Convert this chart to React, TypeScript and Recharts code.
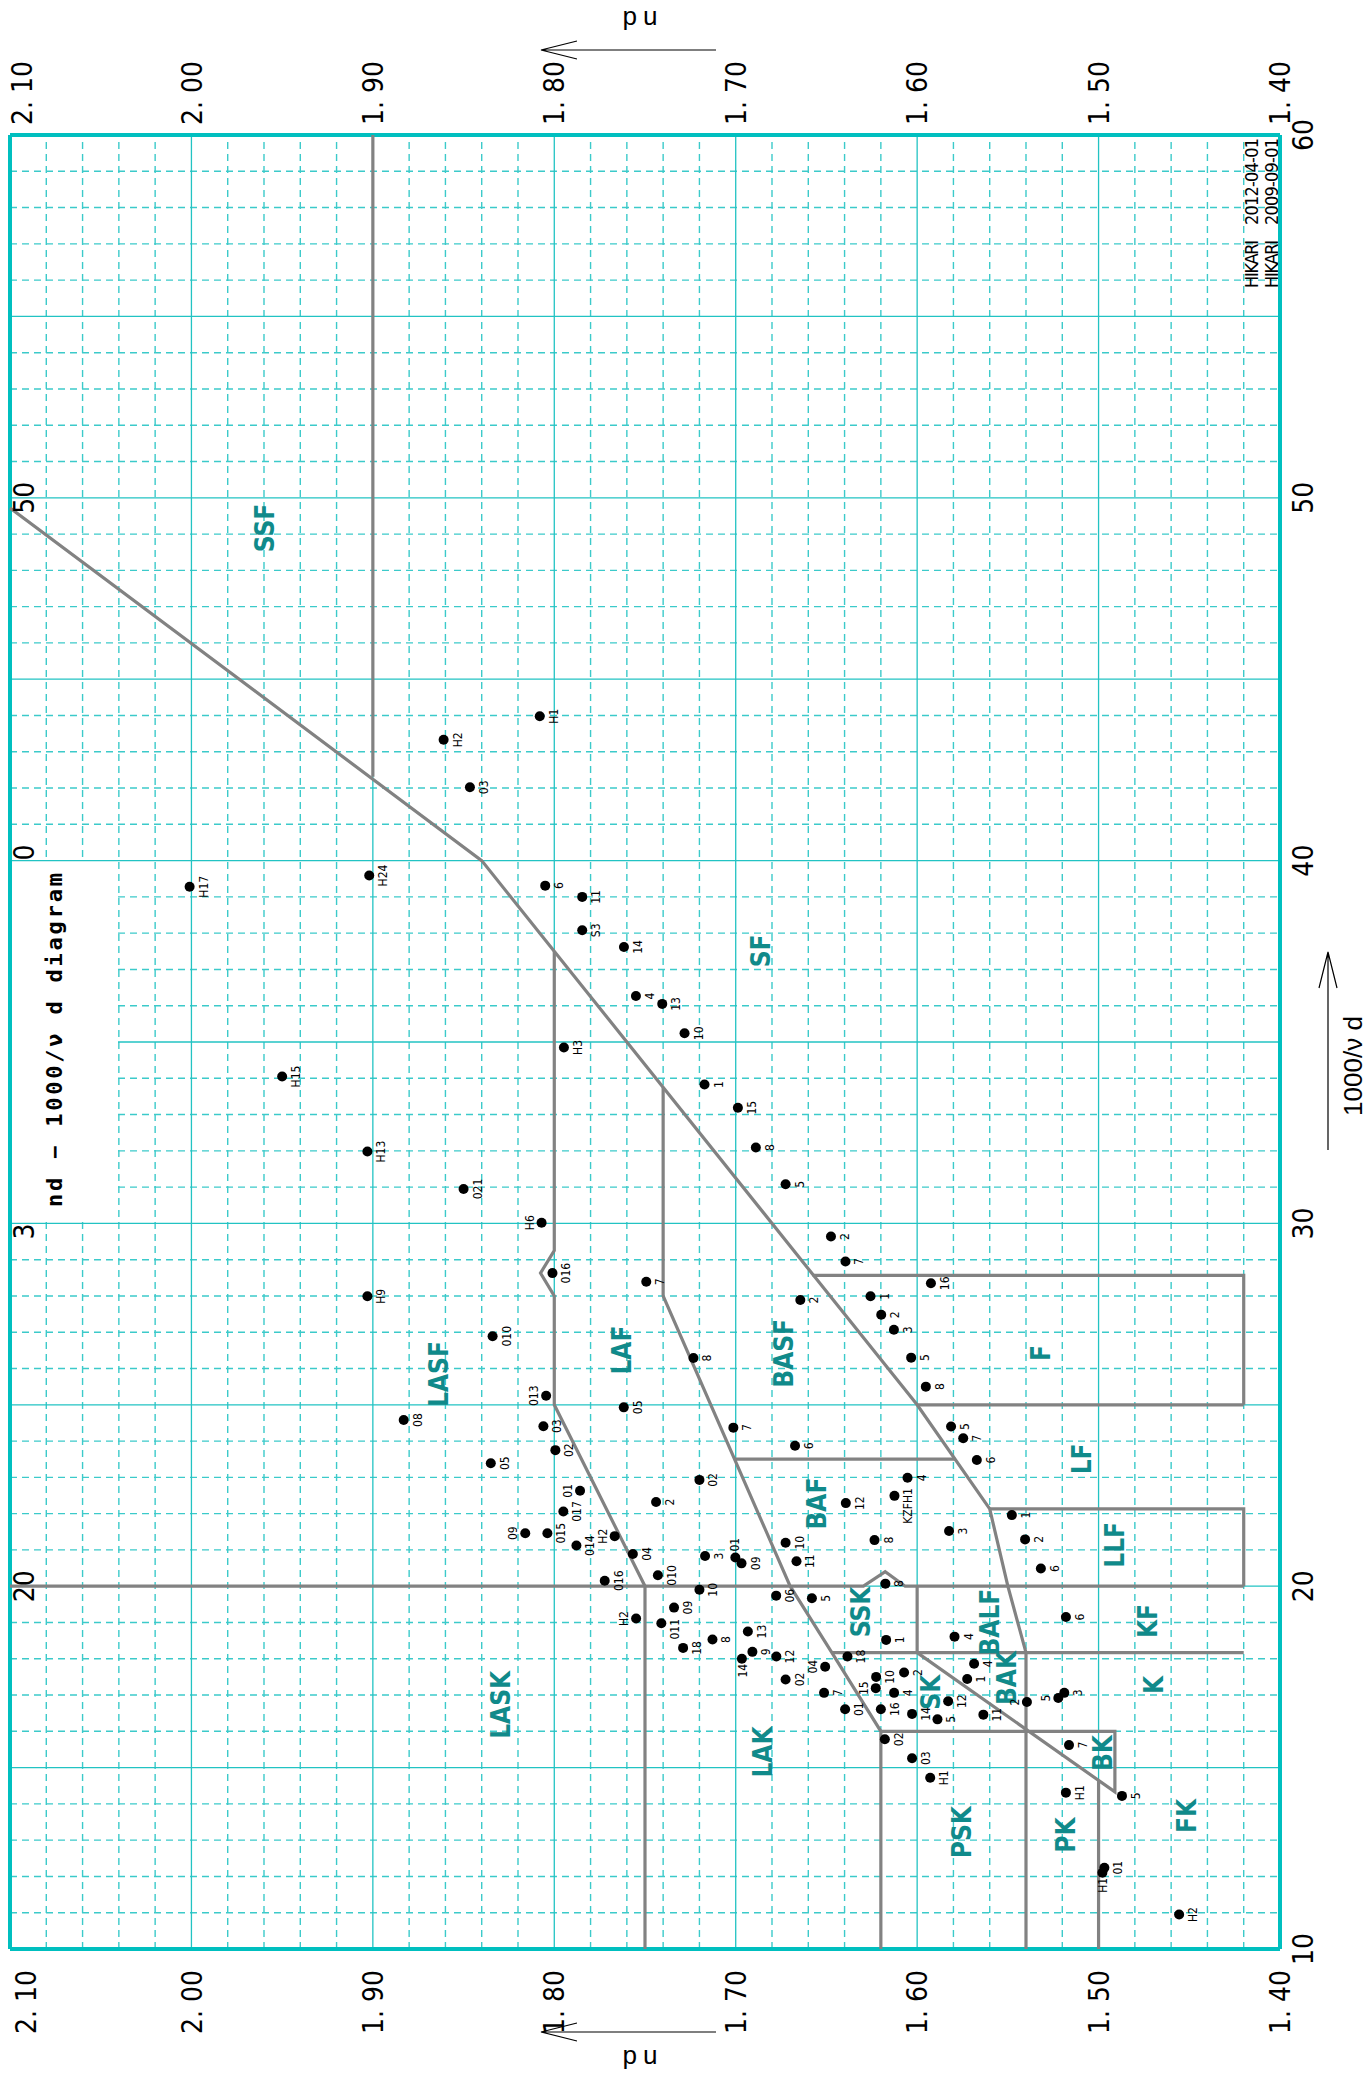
import React from 'react'
import {
  ScatterChart, Scatter, XAxis, YAxis, CartesianGrid,
} from 'recharts'

// glass points: [code, nd, 1000/νd]
const lasfGlass: [string, number, number][] = [
  ['H17', 2.001, 39.28], ['H24', 1.902, 39.59], ['H15', 1.95, 34.05], ['H13', 1.903, 31.98],
  ['021', 1.85, 30.95], ['H6', 1.807, 30.02], ['H9', 1.903, 27.99], ['010', 1.834, 26.89],
  ['016', 1.801, 28.63], ['013', 1.8045, 25.25], ['08', 1.883, 24.58], ['05', 1.835, 23.39],
  ['03', 1.806, 24.41], ['02', 1.7994, 23.75], ['01', 1.7858, 22.63], ['017', 1.795, 22.06],
  ['09', 1.816, 21.46], ['015', 1.8038, 21.46], ['014', 1.7878, 21.12],
]
const sfGlass: [string, number, number][] = [
  ['H1', 1.808, 43.98], ['H2', 1.861, 43.33], ['03', 1.8465, 42.02], ['6', 1.805, 39.31],
  ['11', 1.7846, 39.0], ['S3', 1.7846, 38.08], ['14', 1.7616, 37.62], ['4', 1.755, 36.27],
  ['13', 1.7405, 36.05], ['10', 1.7282, 35.24], ['1', 1.7172, 33.83], ['15', 1.6988, 33.19],
  ['8', 1.6889, 32.09], ['5', 1.6725, 31.08], ['2', 1.6475, 29.64], ['7', 1.6395, 28.95],
]
const lafGlass: [string, number, number][] = [
  ['H3', 1.7947, 34.85], ['7', 1.7493, 28.39], ['8', 1.7233, 26.29], ['05', 1.7617, 24.93],
  ['02', 1.72, 22.93], ['2', 1.7439, 22.32], ['H2', 1.7667, 21.38], ['04', 1.7567, 20.89],
  ['3', 1.7169, 20.83], ['01', 1.7002, 20.79], ['09', 1.6968, 20.63], ['010', 1.7429, 20.3],
  ['016', 1.7722, 20.15],
]
const basfGlass: [string, number, number][] = [['2', 1.6644, 27.89], ['7', 1.7013, 24.37], ['6', 1.6673, 23.87]]
const fGlass: [string, number, number][] = [
  ['16', 1.5924, 28.35], ['1', 1.6257, 27.99], ['2', 1.6198, 27.48], ['3', 1.6128, 27.07],
  ['5', 1.6033, 26.3], ['8', 1.5952, 25.5],
]
const lfGlass: [string, number, number][] = [['5', 1.5813, 24.4], ['7', 1.5746, 24.08], ['6', 1.5671, 23.48]]
const bafGlass: [string, number, number][] = [
  ['4', 1.6053, 22.99], ['KZFH1', 1.6125, 22.49], ['12', 1.6393, 22.29], ['3', 1.5824, 21.52],
  ['8', 1.6235, 21.27], ['10', 1.6725, 21.2], ['11', 1.6665, 20.69],
]
const llfGlass: [string, number, number][] = [['1', 1.5478, 21.96], ['2', 1.5405, 21.29], ['6', 1.5318, 20.49]]
const kfGlass: [string, number, number][] = [['6', 1.518, 19.15]]
const lakGlass: [string, number, number][] = [
  ['10', 1.72, 19.9], ['H2', 1.7549, 19.11], ['09', 1.734, 19.41], ['011', 1.741, 18.98],
  ['18', 1.729, 18.3], ['8', 1.7128, 18.53], ['13', 1.6933, 18.75], ['9', 1.6908, 18.19],
  ['14', 1.6966, 18.0], ['12', 1.6776, 18.06], ['04', 1.6507, 17.78], ['02', 1.6725, 17.43],
  ['7', 1.6513, 17.06], ['01', 1.6397, 16.61],
]
const sskGlass: [string, number, number][] = [
  ['06', 1.6777, 19.74], ['5', 1.658, 19.67], ['8', 1.6175, 20.07], ['18', 1.6384, 18.06], ['1', 1.6171, 18.52],
]
const skGlass: [string, number, number][] = [
  ['10', 1.6226, 17.5], ['15', 1.6228, 17.19], ['2', 1.6072, 17.62], ['4', 1.6127, 17.06],
  ['16', 1.62, 16.61], ['14', 1.6028, 16.48], ['5', 1.5888, 16.33], ['12', 1.5829, 16.83],
]
const balfGlass: [string, number, number][] = [['4', 1.5794, 18.61]]
const bakGlass: [string, number, number][] = [['4', 1.5686, 17.86], ['1', 1.5724, 17.44], ['11', 1.5635, 16.46], ['2', 1.5395, 16.81]]
const kGlass: [string, number, number][] = [['5', 1.5222, 16.92], ['3', 1.5189, 17.06]]
const pskGlass: [string, number, number][] = [['02', 1.6178, 15.78], ['03', 1.6028, 15.26], ['H1', 1.5928, 14.72]]
const bkGlass: [string, number, number][] = [['7', 1.5163, 15.62]]
const pkGlass: [string, number, number][] = [['H1', 1.518, 14.31]]
const fkGlass: [string, number, number][] = [['5', 1.4871, 14.22], ['01', 1.4968, 12.24], ['H1', 1.4979, 12.1], ['H2', 1.4556, 10.95]]

const glassFamilies: Record<string, [string, number, number][]> = {
  lasf: lasfGlass, sf: sfGlass, laf: lafGlass, basf: basfGlass, f: fGlass, lf: lfGlass,
  baf: bafGlass, llf: llfGlass, kf: kfGlass, lak: lakGlass, ssk: sskGlass, sk: skGlass,
  balf: balfGlass, bak: bakGlass, k: kGlass, psk: pskGlass, bk: bkGlass, pk: pkGlass, fk: fkGlass,
}

// where the code sits against its dot (default r = right of the dot on the page)
const labelSide: Record<string, string> = {
  'lasf-H6': 'l', 'lasf-013': 'l', 'lasf-09': 'l', 'lasf-01': 'l', 'laf-H2': 'l', 'laf-01': 'u',
  'lak-H2': 'l', 'lak-14': 'd', 'lak-04': 'l', 'sk-15': 'l', 'bak-2': 'l', 'k-5': 'l', 'fk-H1': 'd',
}
const labelShift: Record<string, number> = { 'baf-KZFH1': -10, 'lak-011': -6 }

// family boundaries: [1000/νd, nd]
const ssfBoundary = [[60, 1.9], [42.31, 1.9]]
const sfBoundary = [[49.72, 2.1], [40, 1.84], [25, 1.6], [22.13, 1.56], [20, 1.55], [18.17, 1.54], [10, 1.54]]
const lasfBoundary = [[37.5, 1.8], [29.25, 1.8], [28.63, 1.8076], [28.0, 1.8], [25, 1.8], [20, 1.75], [10, 1.75]]
const lafBoundary = [[33.75, 1.74], [28.0, 1.74], [20, 1.67], [18.17, 1.647], [16.0, 1.62], [10, 1.62]]
const line20 = [[20, 2.1], [20, 1.6296], [20.4, 1.6176], [20, 1.6066], [20, 1.42]]
const fBoundary = [[28.57, 1.6576], [28.57, 1.42], [25, 1.42]]
const line25 = [[25, 1.6], [25, 1.42]]
const bafBoundary = [[23.5, 1.7006], [23.5, 1.579]]
const llfBoundary = [[22.13, 1.56], [22.13, 1.42], [20, 1.42]]
const sskBoundary = [[20, 1.6], [18.17, 1.6]]
const line18 = [[18.17, 1.647], [18.17, 1.42]]
const bkBoundary = [[16, 1.62], [16, 1.491], [14.33, 1.491], [18.17, 1.6]]
const pkBoundary = [[14.65, 1.5], [10, 1.5]]
const boundaries = [
  ssfBoundary, sfBoundary, lasfBoundary, lafBoundary, line20, fBoundary, line25,
  bafBoundary, llfBoundary, sskBoundary, line18, bkBoundary, pkBoundary,
]

// family names: [name, nd, 1000/νd]
const regionLabels: [string, number, number][] = [
  ['SSF', 1.9594, 49.17], ['SF', 1.686, 37.51], ['LASF', 1.8639, 25.85], ['LAF', 1.7628, 26.51],
  ['BASF', 1.6737, 26.42], ['F', 1.5322, 26.43], ['LF', 1.5096, 23.51], ['BAF', 1.6553, 22.28],
  ['LLF', 1.4914, 21.14], ['KF', 1.4727, 19.04], ['K', 1.4694, 17.28], ['SSK', 1.6314, 19.29],
  ['BALF', 1.5598, 19.01], ['BAK', 1.5504, 17.47], ['SK', 1.5928, 17.08], ['LAK', 1.6849, 15.43],
  ['LASK', 1.8293, 16.73], ['BK', 1.4975, 15.4], ['PK', 1.5184, 13.14], ['PSK', 1.5752, 13.22],
  ['FK', 1.4517, 13.67],
]

const invTicks = [10, 20, 30, 40, 50, 60]
const invTicksLeft = [20, 30, 40, 50]
const ndTicks = [1.4, 1.5, 1.6, 1.7, 1.8, 1.9, 2.0, 2.1]

const invMajor = [15, 20, 25, 30, 35, 40, 45, 50, 55]
const invMinor = Array.from({ length: 49 }, (_, i) => 11 + i).filter(v => v % 5 !== 0)
const ndMajor = [1.5, 1.6, 1.7, 1.8, 1.9, 2.0]
const ndMinor = Array.from({ length: 34 }, (_, i) => +(1.42 + i * 0.02).toFixed(2))
  .filter(n => Math.abs(n * 10 - Math.round(n * 10)) > 1e-6)

// the chart is laid out lying down and turned a quarter turn
const W = 2081
const H = 1369
// axes take 1px each, so the plot is 132..1946 x 10..1280
const M = { top: 9, right: 134, bottom: 88, left: 131 }
const PLOT_L = 132
const PLOT_T = 10
const PLOT_R = 1946
const PLOT_B = 1280

const NARROW = "'Liberation Sans Narrow', 'DejaVu Sans Condensed', sans-serif"
const CYAN = '#00bfbf'
const GRAY = '#828282'
const TEAL = '#108a8a'
const frameLine = { stroke: CYAN, strokeWidth: 4 }

const glassData = Object.entries(glassFamilies).flatMap(([fam, rows]) =>
  rows.map(([code, nd, v]) => ({ key: `${fam}-${code}`, code, nd, v })))
const regionData = regionLabels.map(([name, nd, v]) => ({ name, nd, v }))

const ndText = (n: number) => n.toFixed(2).replace('.', '. ')

const renderGlass = (p: any) => {
  const { cx, cy, payload } = p
  if (cx == null || cy == null) return <g />
  const side = labelSide[payload.key] ?? 'r'
  const shift = labelShift[payload.key] ?? 0
  const common = { fontSize: 12, fontFamily: NARROW, fill: '#000' }
  let label
  if (side === 'l') label = <text x={cx + shift} y={cy - 8} textAnchor="middle" {...common}>{payload.code}</text>
  else if (side === 'u') label = <text x={cx + 6} y={cy + 4} textAnchor="start" {...common}>{payload.code}</text>
  else if (side === 'd') label = <text x={cx - 5} y={cy + 5} textAnchor="end" {...common}>{payload.code}</text>
  else label = <text x={cx + shift} y={cy + 18} textAnchor="middle" {...common}>{payload.code}</text>
  return (
    <g>
      <circle cx={cx} cy={cy} r={5} fill="#000" />
      {label}
    </g>
  )
}

const renderRegion = (p: any) => {
  const { cx, cy, payload } = p
  if (cx == null || cy == null) return <g />
  return (
    <text x={cx} y={cy} dy="0.36em" textAnchor="middle" fontSize={26} fontWeight="bold"
      fontFamily={NARROW} fill={TEAL}>{payload.name}</text>
  )
}

// 1000/νd ticks: written on both long sides of the page
const renderInvTick = (t: any) => {
  const v = t.payload.value
  return (
    <g>
      <text x={t.x} y={PLOT_B + 33} textAnchor="middle" fontSize={28} fontFamily={NARROW} fill="#000">{v}</text>
      {invTicksLeft.includes(v) && (
        <text x={t.x} y={PLOT_T + 24} textAnchor="middle" fontSize={28} fontFamily={NARROW} fill="#000"
          clipPath="url(#titleGap)">{v}</text>
      )}
    </g>
  )
}

// nd ticks: written above and below the frame
const renderNdTick = (t: any) => {
  const s = ndText(t.payload.value)
  return (
    <g>
      <text x={PLOT_L - 21} y={Math.max(t.y, 26)} dy="0.36em" textAnchor="end" fontSize={28}
        fontFamily={NARROW} fill="#000">{s}</text>
      <text x={PLOT_R + 10} y={Math.max(t.y, 22)} dy="0.36em" textAnchor="start" fontSize={28}
        fontFamily={NARROW} fill="#000">{s}</text>
    </g>
  )
}

const noDot = () => <g />

export default function App() {
  return (
    <div style={{ position: 'absolute', left: 0, top: 0, width: H, height: W, overflow: 'hidden', background: '#fff' }}>
      <div style={{
        position: 'absolute', left: 0, top: 0, width: W, height: H,
        transformOrigin: '0 0', transform: `translate(0px, ${W}px) rotate(-90deg)`,
      }}>
        <ScatterChart width={W} height={H} margin={M}>
          <defs>
            <clipPath id="titleGap">
              <rect x={0} y={0} width={859} height={H} />
              <rect x={1219} y={0} width={W - 1219} height={H} />
            </clipPath>
          </defs>
          <CartesianGrid verticalValues={invMinor} horizontalValues={ndMinor}
            stroke="#3ccaca" strokeWidth={1.4} strokeDasharray="7 5" />
          <CartesianGrid verticalValues={invMajor} horizontalValues={ndMajor}
            stroke="#22c3c3" strokeWidth={1.3} />
          <XAxis type="number" dataKey="v" domain={[10, 60]} ticks={invTicks} interval={0}
            orientation="bottom" height={1} tickSize={0} tickLine={false} axisLine={frameLine}
            tick={renderInvTick} />
          <XAxis xAxisId="top" type="number" dataKey="v" domain={[10, 60]} orientation="top"
            height={1} tickLine={false} tick={false} axisLine={frameLine} />
          <YAxis type="number" dataKey="nd" domain={[1.4, 2.1]} ticks={ndTicks} interval={0}
            orientation="left" width={1} tickSize={0} tickLine={false} axisLine={frameLine}
            tick={renderNdTick} />
          <YAxis yAxisId="right" type="number" dataKey="nd" domain={[1.4, 2.1]} orientation="right"
            width={1} tickLine={false} tick={false} axisLine={frameLine} />

          {boundaries.map((b, i) => (
            <Scatter key={'b' + i} data={b.map(([v, nd]) => ({ v, nd }))} shape={noDot}
              line={{ stroke: GRAY, strokeWidth: 3.2, fill: 'none' }} isAnimationActive={false} />
          ))}
          <Scatter data={regionData} shape={renderRegion} isAnimationActive={false} />
          <Scatter data={glassData} shape={renderGlass} isAnimationActive={false} />

          {/* title on a blank patch */}
          <rect x={859} y={12} width={360} height={106} fill="#fff" />
          <text x={1041} y={62} textAnchor="middle" fontSize={22} fontWeight="bold"
            fontFamily="'DejaVu Sans Mono', monospace" textLength={334} lengthAdjust="spacing">
            nd − 1000/ν d diagram
          </text>
          <text x={1793} y={1258} fontSize={18} fontFamily={NARROW} textLength={48}>HIKARI</text>
          <text x={1856} y={1258} fontSize={18} fontFamily={NARROW} textLength={87}>2012-04-01</text>
          <text x={1793} y={1278} fontSize={18} fontFamily={NARROW} textLength={48}>HIKARI</text>
          <text x={1856} y={1278} fontSize={18} fontFamily={NARROW} textLength={87}>2009-09-01</text>

          <text x={1015} y={1362} textAnchor="middle" fontSize={26} fontFamily="'Liberation Sans', sans-serif">1000/ν d</text>
          <path d="M931 1328 L1129 1328 M1093 1319 L1129 1328 L1093 1337" stroke="#000" strokeWidth={1.2} fill="none" />

          <text x={2061} y={637} transform="rotate(-90 2061 637)" textAnchor="middle" dominantBaseline="central"
            fontSize={26} letterSpacing={6} fontFamily="'Liberation Sans', sans-serif">nd</text>
          <path d="M2031 716 L2031 541 M2022 577 L2031 541 L2040 577" stroke="#000" strokeWidth={1.2} fill="none" />
          <text x={22} y={637} transform="rotate(-90 22 637)" textAnchor="middle" dominantBaseline="central"
            fontSize={26} letterSpacing={6} fontFamily="'Liberation Sans', sans-serif">nd</text>
          <path d="M49 716 L49 541 M40 577 L49 541 L58 577" stroke="#000" strokeWidth={1.2} fill="none" />
        </ScatterChart>
      </div>
    </div>
  )
}
